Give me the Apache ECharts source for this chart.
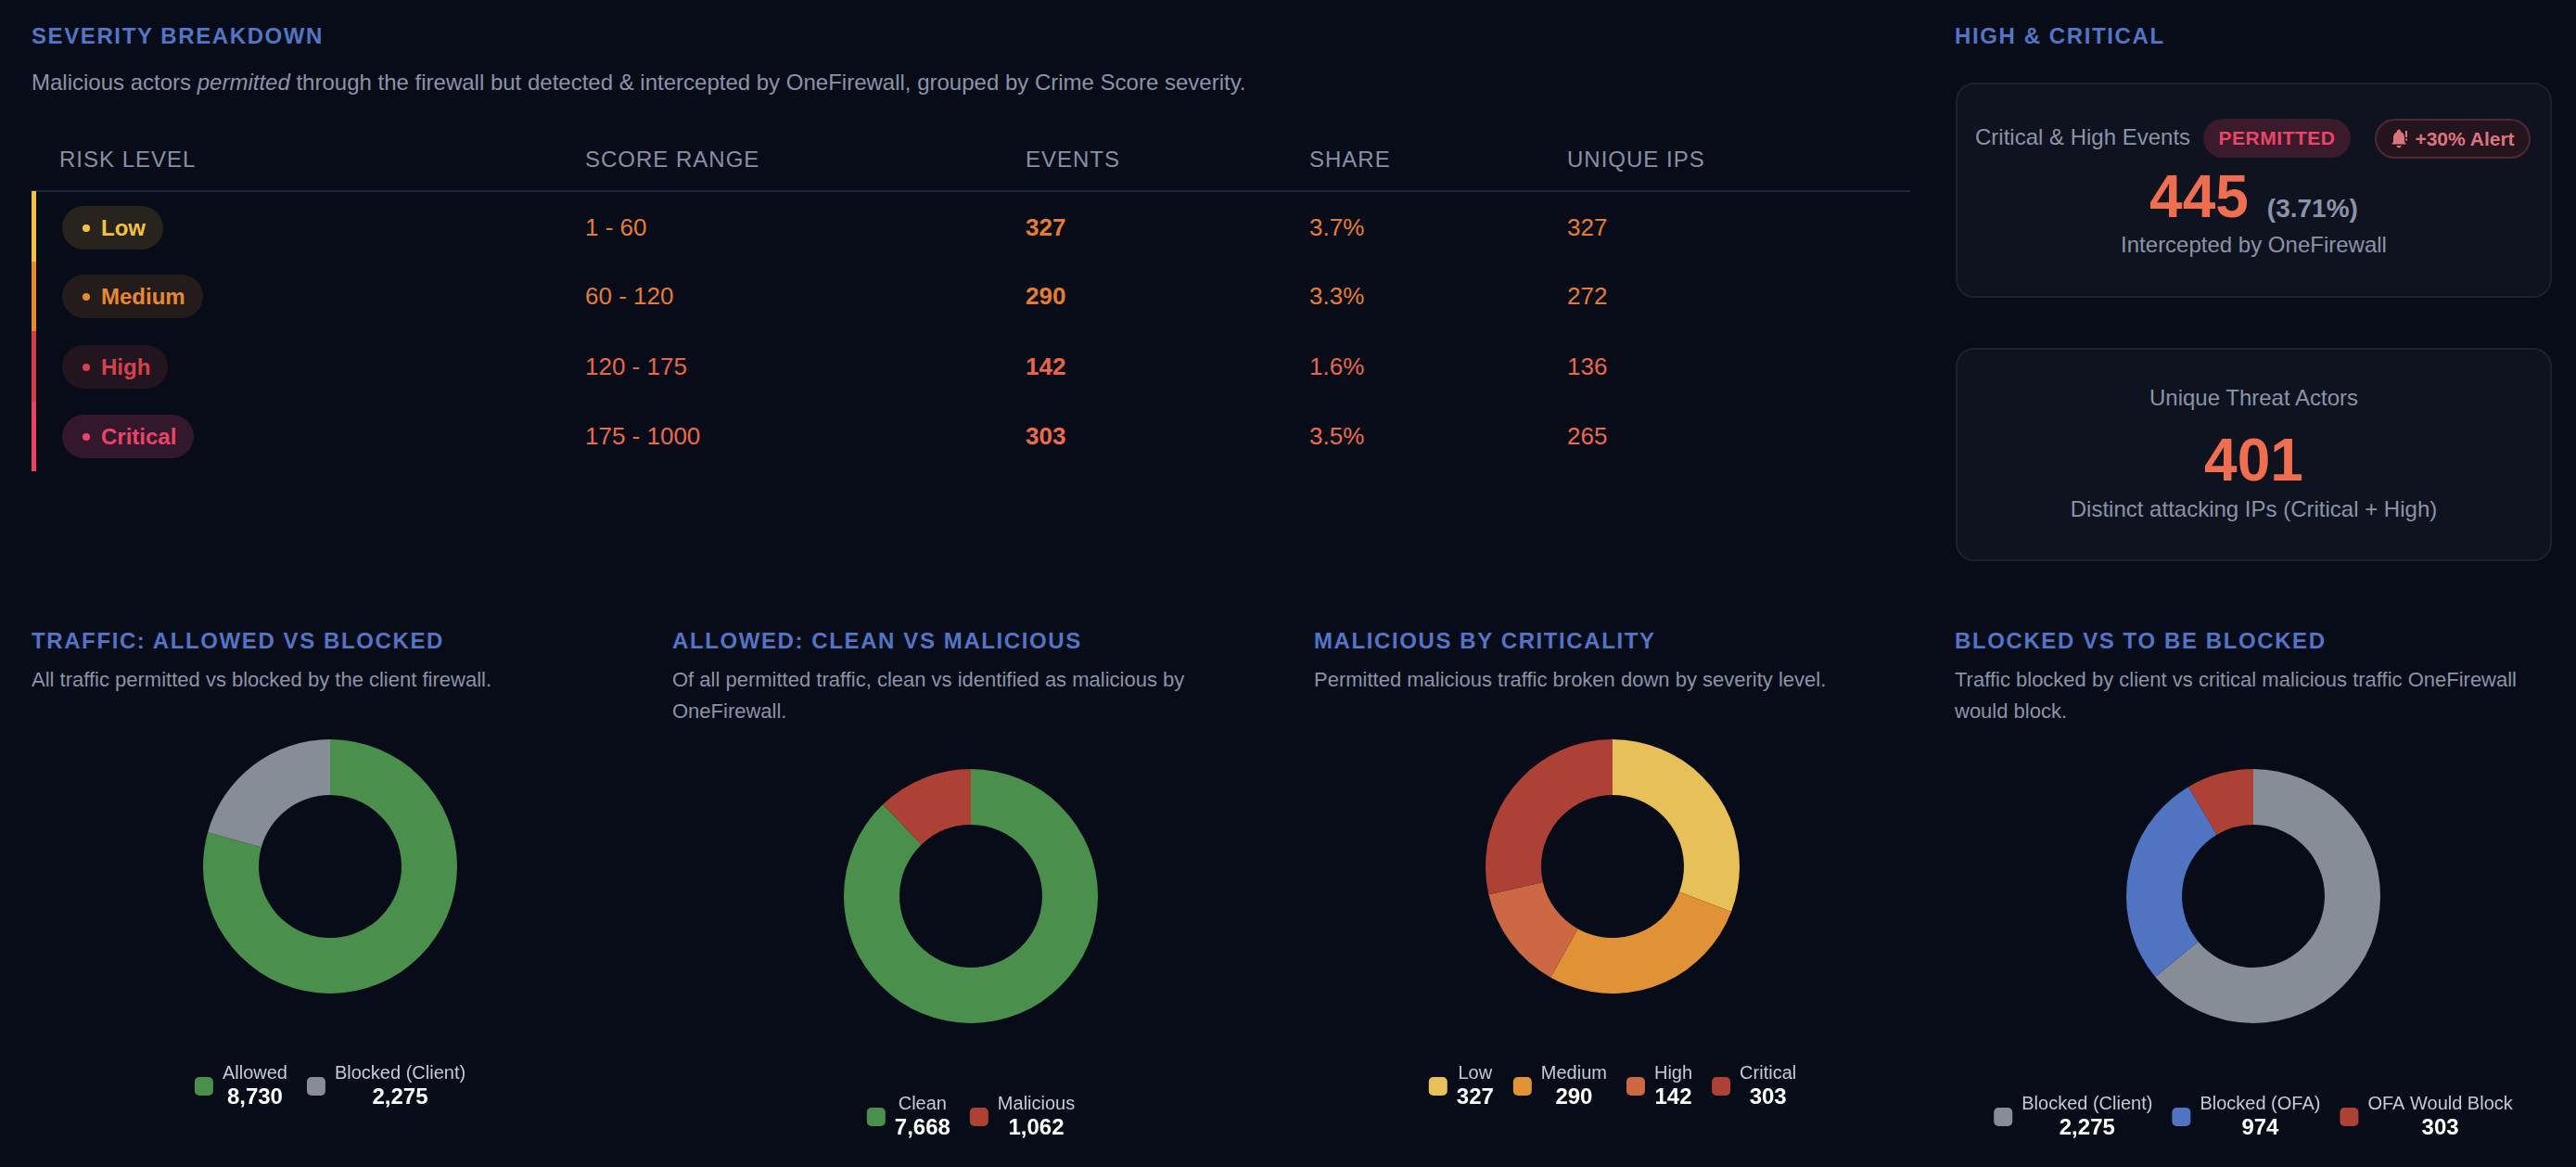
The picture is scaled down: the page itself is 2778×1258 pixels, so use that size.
<!DOCTYPE html>
<html>
<head>
<meta charset="utf-8">
<title>Severity Breakdown</title>
<script src="https://cdn.jsdelivr.net/npm/echarts@6/dist/echarts.min.js"></script>
<style>
  html, body { margin: 0; padding: 0; background: #080c18; }
  body { width: 2778px; height: 1258px; position: relative; overflow: hidden;
         font-family: "Liberation Sans", Arial, Helvetica, sans-serif; color: #8b93a8; }
  .abs { position: absolute; }
  .h { color: #5375c6; font-weight: bold; font-size: 24px; letter-spacing: 1.6px; line-height: 30px; white-space: nowrap; }
  .sub { font-size: 24px; line-height: 30px; color: #8b93a8; white-space: nowrap; }
  .th { font-size: 24px; letter-spacing: 1px; line-height: 30px; color: #8890a6; white-space: nowrap; }
  .row { position: absolute; left: 34px; width: 2026px; height: 75px; }
  .cell { position: absolute; top: 0; height: 75px; display: flex; align-items: center; font-size: 26px; white-space: nowrap; }
  .pill { display: flex; align-items: center; height: 47px; border-radius: 24px; padding: 0 19px 0 22px;
          font-size: 24px; font-weight: bold; }
  .dot { width: 8px; height: 8px; border-radius: 50%; margin-right: 12px; }
  .card { position: absolute; left: 2109px; width: 639px; background: #0e131f; border: 2px solid #1b2130; border-radius: 20px; }
  .big { font-size: 64px; font-weight: bold; color: #ef6e4f; line-height: 70px; }
  .csub { font-size: 24px; line-height: 30px; color: #8b93a8; text-align: center; position: absolute; left: 0; width: 100%; }
  .psub { font-size: 22px; line-height: 34px; color: #8b93a8; width: 640px; }
  .chart { position: absolute; top: 780px; width: 644px; height: 478px; }
</style>
</head>
<body>
<div id="page"></div>
<script>
// ---- table data ----
var riskLevels = ['Low', 'Medium', 'High', 'Critical'];
var scoreRanges = ['1 - 60', '60 - 120', '120 - 175', '175 - 1000'];
var eventCounts = [327, 290, 142, 303];
var shareLabels = ['3.7%', '3.3%', '1.6%', '3.5%'];
var uniqueIps = [327, 272, 136, 265];
var tableHeaders = ['RISK LEVEL', 'SCORE RANGE', 'EVENTS', 'SHARE', 'UNIQUE IPS'];

// ---- KPI cards ----
var critHighEvents = 445;
var critHighShare = '(3.71%)';
var uniqueActors = 401;

// ---- donut data ----
var trafficNames = ['Allowed', 'Blocked (Client)'];
var trafficValues = [8730, 2275];
var allowedNames = ['Clean', 'Malicious'];
var allowedValues = [7668, 1062];
var criticalityNames = ['Low', 'Medium', 'High', 'Critical'];
var criticalityValues = [327, 290, 142, 303];
var blockedNames = ['Blocked (Client)', 'Blocked (OFA)', 'OFA Would Block'];
var blockedValues = [2275, 974, 303];

// styling
var levelText = ['#f3c340', '#e8892f', '#d8404e', '#ea4468'];
var levelBg = ['#27241e', '#231c1a', '#231520', '#33172a'];
var barColor = ['#f3c340', '#e58a2e', '#d43c4b', '#e8435f'];
var valColor = ['#e47c36', '#e47c36', '#e8674a', '#ee6a4e'];
var colX = [30, 597, 1072, 1378, 1656];   // relative to row left (34)

var page = document.getElementById('page');
function add(html) { page.insertAdjacentHTML('beforeend', html); }

// ---- severity breakdown ----
add('<div class="abs h" style="left:34px;top:24px">SEVERITY BREAKDOWN</div>');
add('<div class="abs sub" style="left:34px;top:74px">Malicious actors <i>permitted</i> through the firewall but detected &amp; intercepted by OneFirewall, grouped by Crime Score severity.</div>');
tableHeaders.forEach(function (t, i) {
    add('<div class="abs th" style="left:' + (34 + colX[i]) + 'px;top:157px">' + t + '</div>');
});
add('<div class="abs" style="left:34px;top:205px;width:2026px;height:2px;background:#1c2540"></div>');

var rowCenters = [245, 319, 395, 470];
riskLevels.forEach(function (lvl, i) {
    var top = rowCenters[i] - 37;
    var segTop = i === 0 ? 206 : (rowCenters[i - 1] + rowCenters[i]) / 2;
    var segBot = i === riskLevels.length - 1 ? 508 : (rowCenters[i] + rowCenters[i + 1]) / 2;
    add('<div class="abs" style="left:34px;top:' + segTop + 'px;width:5px;height:' + (segBot - segTop) + 'px;background:' + barColor[i] + '"></div>');
    var h = '<div class="row" style="top:' + top + 'px">';
    h += '<div class="cell" style="left:33px"><div class="pill" style="background:' + levelBg[i] + ';color:' + levelText[i] + '">' +
         '<span class="dot" style="background:' + levelText[i] + '"></span>' + lvl + '</div></div>';
    h += '<div class="cell" style="left:' + colX[1] + 'px;color:' + valColor[i] + '">' + scoreRanges[i] + '</div>';
    h += '<div class="cell" style="left:' + colX[2] + 'px;color:' + valColor[i] + ';font-weight:bold">' + eventCounts[i] + '</div>';
    h += '<div class="cell" style="left:' + colX[3] + 'px;color:' + valColor[i] + '">' + shareLabels[i] + '</div>';
    h += '<div class="cell" style="left:' + colX[4] + 'px;color:' + valColor[i] + '">' + uniqueIps[i] + '</div>';
    h += '</div>';
    add(h);
});

// ---- high & critical ----
add('<div class="abs h" style="left:2108px;top:24px">HIGH &amp; CRITICAL</div>');
var bell = '<svg width="18" height="22" viewBox="0 0 18 22" style="margin-right:8px">' +
    '<path d="M7 2.5a2 2 0 0 1 4 0c0 .2 0 .4-.1.6C13.6 4 15 6.4 15 9.5v4.5l2 2.5H1l2-2.5V9.5C3 6.4 4.4 4 7.1 3.1 7 2.9 7 2.7 7 2.5z" fill="#dc7480"/>' +
    '<path d="M6.5 18h5a2.5 2.5 0 0 1-5 0z" fill="#dc7480"/>' +
    '<rect x="16" y="2" width="2" height="7" fill="#dc7480"/><rect x="16" y="10.5" width="2" height="2" fill="#dc7480"/></svg>';
add('<div class="card" style="top:89px;height:228px">' +
    '<div class="abs sub" style="left:19px;top:42px">Critical &amp; High Events</div>' +
    '<div class="abs" style="left:265px;top:37px;width:159px;height:42px;border-radius:21px;background:#3a1a2b;color:#e8466a;font-weight:bold;font-size:21px;letter-spacing:0.5px;display:flex;align-items:center;justify-content:center">PERMITTED</div>' +
    '<div class="abs" style="left:450px;top:37px;width:164px;height:39px;border-radius:22px;background:#24141d;border:2px solid #532731;color:#dc7480;font-weight:bold;font-size:21px;display:flex;align-items:center;justify-content:center">' + bell + '+30% Alert</div>' +
    '<div class="abs" style="left:0;top:86px;width:100%;text-align:center;white-space:nowrap"><span class="big">' + critHighEvents + '</span>' +
    '<span style="font-size:28px;font-weight:bold;color:#8b93a8;margin-left:20px">' + critHighShare + '</span></div>' +
    '<div class="csub" style="top:158px">Intercepted by OneFirewall</div>' +
    '</div>');
add('<div class="card" style="top:375px;height:226px">' +
    '<div class="csub" style="top:37px">Unique Threat Actors</div>' +
    '<div class="abs big" style="left:0;top:84px;width:100%;text-align:center">' + uniqueActors + '</div>' +
    '<div class="csub" style="top:157px">Distinct attacking IPs (Critical + High)</div>' +
    '</div>');

// ---- donut panels ----
var panels = [
    { x: 34, title: 'TRAFFIC: ALLOWED VS BLOCKED', desc: 'All traffic permitted vs blocked by the client firewall.',
      names: trafficNames, values: trafficValues, colors: ['#4a8f4c', '#878d96'], cy: 154, ly: 362 },
    { x: 725, title: 'ALLOWED: CLEAN VS MALICIOUS', desc: 'Of all permitted traffic, clean vs identified as malicious by OneFirewall.',
      names: allowedNames, values: allowedValues, colors: ['#4a8f4c', '#ad4136'], cy: 186, ly: 395 },
    { x: 1417, title: 'MALICIOUS BY CRITICALITY', desc: 'Permitted malicious traffic broken down by severity level.',
      names: criticalityNames, values: criticalityValues, colors: ['#e8c05a', '#e29236', '#cc6844', '#ad4136'], cy: 154, ly: 362 },
    { x: 2108, title: 'BLOCKED VS TO BE BLOCKED', desc: 'Traffic blocked by client vs critical malicious traffic OneFirewall would block.',
      names: blockedNames, values: blockedValues, colors: ['#878d96', '#5074c2', '#ad4136'], cy: 186, ly: 395 }
];

panels.forEach(function (p, k) {
    add('<div class="abs h" style="left:' + p.x + 'px;top:676px">' + p.title + '</div>');
    add('<div class="abs psub" style="left:' + p.x + 'px;top:716px">' + p.desc + '</div>');
    add('<div class="chart" id="pie' + k + '" style="left:' + p.x + 'px"></div>');

    var chart = echarts.init(document.getElementById('pie' + k));
    var data = p.names.map(function (n, i) {
        return { name: n, value: p.values[i], itemStyle: { color: p.colors[i] } };
    });
    chart.setOption({
        backgroundColor: 'transparent',
        animation: false,
        legend: {
            left: 'center',
            top: p.ly,
            icon: 'roundRect',
            itemWidth: 20,
            itemHeight: 20,
            itemGap: 21,
            selectedMode: false,
            data: p.names,
            formatter: function (name) {
                var v = p.values[p.names.indexOf(name)];
                return '{n|' + name + '}\n{v|' + v.toLocaleString('en-US') + '}';
            },
            textStyle: {
                padding: [0, 0, 0, 5],
                rich: {
                    n: { fontSize: 20, color: '#c5cad5', lineHeight: 25, align: 'center', fontFamily: 'Liberation Sans' },
                    v: { fontSize: 24, fontWeight: 'bold', color: '#ffffff', lineHeight: 28, align: 'center', fontFamily: 'Liberation Sans' }
                }
            }
        },
        series: [{
            type: 'pie',
            radius: [77, 137],
            center: ['50%', p.cy],
            startAngle: 90,
            clockwise: true,
            label: { show: false },
            labelLine: { show: false },
            itemStyle: { borderWidth: 0 },
            emphasis: { disabled: true },
            data: data
        }]
    });
});
</script>
</body>
</html>
